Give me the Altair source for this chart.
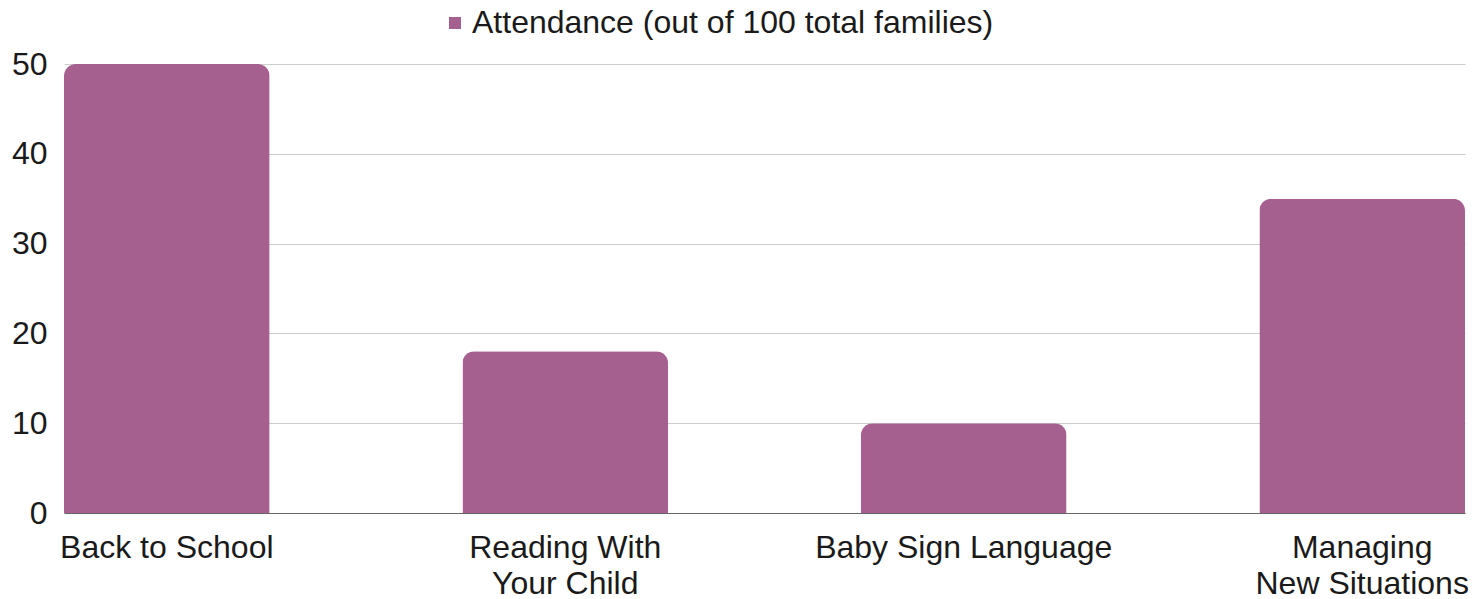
import altair as alt
import pandas as pd

categories = ["Back to School", "Reading With|Your Child", "Baby Sign Language", "Managing|New Situations"]
values = [50, 18, 10, 35]
series_name = "Attendance (out of 100 total families)"
y_ticks = [0, 10, 20, 30, 40, 50]

df = pd.DataFrame({"category": categories, "value": values, "series": [series_name] * len(categories)})

FONT = "Liberation Sans"
BAR = "#A6608F"
FS = 32

chart = alt.Chart(df).mark_bar(
    cornerRadiusTopLeft=12, cornerRadiusTopRight=12
).encode(
    x=alt.X("category:N", sort=categories,
            scale=alt.Scale(paddingInner=0.484, paddingOuter=0),
            axis=alt.Axis(title=None, labelAngle=0, ticks=False, domain=True,
                          domainColor="#666666", domainWidth=1,
                          labelFont=FONT, labelFontSize=FS, labelColor="#1a1a1a",
                          labelPadding=19, labelLineHeight=36, labelLimit=0,
                          labelExpr="split(datum.value, '|')")),
    y=alt.Y("value:Q", scale=alt.Scale(domain=[0, 50], nice=False),
            axis=alt.Axis(title=None, values=y_ticks, ticks=False, domain=False,
                          grid=True, gridColor="#cccccc", gridWidth=1,
                          labelFont=FONT, labelFontSize=FS, labelColor="#1a1a1a",
                          labelPadding=17, labelLimit=0)),
    color=alt.Color("series:N", scale=alt.Scale(range=[BAR]),
                    legend=alt.Legend(title=None, orient="none", legendX=375, legendY=-57,
                                      symbolType="square", symbolSize=144,
                                      symbolStrokeWidth=0, padding=0,
                                      labelFont=FONT, labelFontSize=FS, labelLimit=0,
                                      labelColor="#1a1a1a", labelOffset=1)),
).properties(
    width=1401, height=449,
    autosize=alt.AutoSizeParams(type="none"),
    padding={"left": 56, "top": 56, "right": 3, "bottom": 90},
).configure_view(stroke=None)

chart.save("out.html", embed_options={"renderer": "svg", "actions": False})
